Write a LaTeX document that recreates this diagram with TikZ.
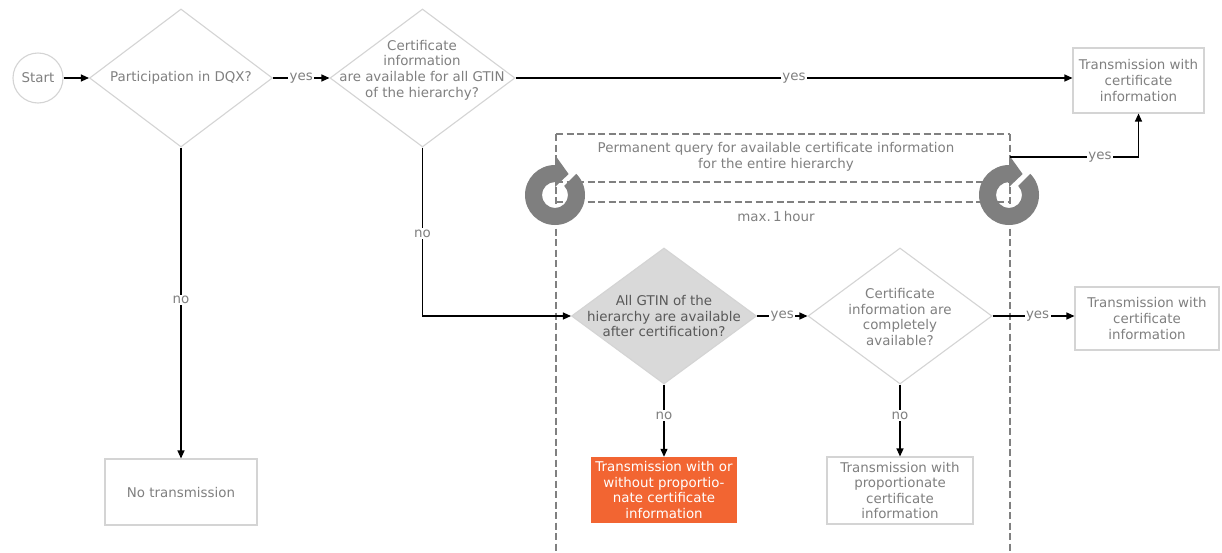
\documentclass[tikz,border=0pt]{standalone}
\usepackage{fontspec}
\setmainfont{DejaVu Sans}
\usetikzlibrary{shapes.geometric,arrows.meta}
\definecolor{txtgray}{HTML}{808080}
\definecolor{darktxt}{HTML}{595959}
\definecolor{edgegray}{HTML}{D4D4D4}
\definecolor{diafill}{HTML}{D9D9D9}
\definecolor{dashgray}{HTML}{808080}
\definecolor{iconcol}{HTML}{7F7F7F}
\definecolor{orangebox}{HTML}{F26532}
\tikzset{
  dia/.style={diamond, draw=edgegray, line width=1.1pt, inner sep=0pt},
  box/.style={rectangle, draw=edgegray, line width=1.1pt, inner sep=0pt, text=txtgray, align=center},
  txt/.style={text=txtgray, align=center, inner sep=0pt},
  conn/.style={-{Triangle[length=8pt,width=7pt]}, line width=1.2pt, black},
  lbl/.style={fill=white, inner sep=1.5pt, text=txtgray},
  dsh/.style={draw=dashgray, line width=2pt, dash pattern=on 7pt off 3.5pt},
  loopicon/.pic={
    \fill[iconcol] (90:30pt) arc[start angle=90, end angle=405, radius=30pt]
      -- (405:13pt) arc[start angle=405, end angle=90, radius=13pt] -- cycle;
    \fill[iconcol] (90:40pt) -- (57:25pt) -- (90:8pt) -- cycle;
  }
}
\begin{document}
\begin{tikzpicture}[x=1pt,y=-1pt,font=\fontsize{13.4}{15.6}\selectfont]
\useasboundingbox (0,0) rectangle (1222,552);
\fill[white] (0,0) rectangle (1222,552);

% dashed frame
\draw[dsh] (556,134) -- (1010,134);
\draw[dsh] (556,182) -- (1010,182);
\draw[dsh] (556,202) -- (1010,202);
\draw[dsh] (556,134) -- (556,552);
\draw[dsh] (1010,134) -- (1010,552);
\node[txt] (perm) at (776,156.5) {Permanent query for available certificate information\\for the entire hierarchy};
\node[txt] (maxh) at (776,216) {max.\,1\,hour};
\pic at (555,195) {loopicon};
\pic at (1009,195) {loopicon};

% nodes
\node[circle, draw=edgegray, line width=1.1pt, minimum size=50pt, inner sep=0pt, text=txtgray] (start) at (38,78) {Start};
\node[dia, minimum width=183pt, minimum height=138pt] (d1) at (181,78) {};
\node[txt] (t1) at (d1) {Participation in DQX?};
\node[dia, minimum width=185pt, minimum height=138pt] (d2) at (422.5,78) {};
\node[txt] (t2) at (422,70) {Certificate\\information\\are available for all GTIN\\of the hierarchy?};
\node[box, minimum width=131pt, minimum height=65pt] (b1) at (1138.5,80.5) {Transmission with\\certificate\\information};

\node[dia, fill=diafill, minimum width=185pt, minimum height=136pt] (d3) at (664,316) {};
\node[txt, text=darktxt] (t3) at (d3) {All GTIN of the\\hierarchy are available\\after certification?};
\node[dia, minimum width=184pt, minimum height=136pt] (d4) at (900,316) {};
\node[txt] (t4) at (900,317) {Certificate\\information are\\completely\\available?};
\node[box, minimum width=144pt, minimum height=63pt] (b2) at (1147,318.5) {Transmission with\\certificate\\information};

\node[box, minimum width=152pt, minimum height=66pt] (nt) at (181,492) {No transmission};
\node[rectangle, fill=orangebox, text=white, align=center, inner sep=0pt, minimum width=146pt, minimum height=66pt] (ob) at (664,490) {Transmission with or\\without proportio-\\nate certificate\\information};
\node[box, minimum width=146pt, minimum height=67pt] (b3) at (900,490.5) {Transmission with\\proportionate\\certificate\\information};

\coordinate (loopR) at (1010,157);

% connectors
\draw[conn] (start) -- (d1.west);
\draw[conn] (d1.east) -- node[lbl] {yes} (d2.west);
\draw[conn] (d2.east) -- node[lbl] {yes} (d2.east -| b1.west);
\draw[conn] (d1.south) -- node[lbl, pos=0.49] {no} (nt.north);
\draw[conn] (d2.south) |- node[lbl, pos=0.255] {no} (d3.west);
\draw[conn] (d3.east) -- node[lbl] {yes} (d4.west);
\draw[conn] (d4.east) -- node[lbl, pos=0.55] {yes} (d4.east -| b2.west);
\draw[conn] (d3.south) -- node[lbl, pos=0.43] {no} (ob.north);
\draw[conn] (d4.south) -- node[lbl, pos=0.43] {no} (b3.north);
\draw[conn] (loopR) -| node[lbl, pos=0.35] {yes} (b1.south);
\end{tikzpicture}
\end{document}
